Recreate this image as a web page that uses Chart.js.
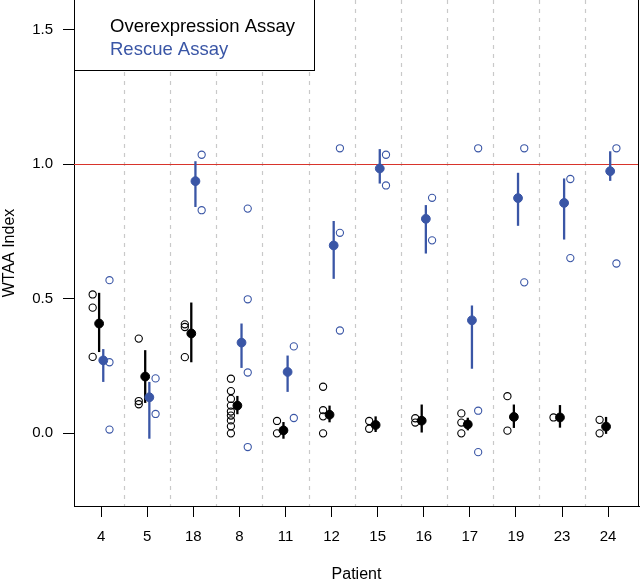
<!DOCTYPE html>
<html>
<head>
<meta charset="utf-8">
<script src="https://cdn.jsdelivr.net/npm/chart.js@4.4.0/dist/chart.umd.min.js"></script>
<style>
  html, body { margin: 0; padding: 0; background: #fff; }
  canvas { display: block; }
</style>
</head>
<body>
<canvas id="chart" width="640" height="581"></canvas>
<script>
// patients, in plotting order
var patients = ['4', '5', '18', '8', '11', '12', '15', '16', '17', '19', '23', '24'];
var yTicks = [0, 0.5, 1.0, 1.5];
var refLine = 1.0;

// overexpression assay: single measurements, mean and bar ends
var overPoints = [
    [0.516, 0.467, 0.284],
    [0.352, 0.120, 0.108],
    [0.405, 0.395, 0.283],
    [0.203, 0.157, 0.128, 0.103, 0.081, 0.066, 0.048, 0.026, 0.0],
    [0.046, 0.0],
    [0.173, 0.086, 0.063, 0.0],
    [0.046, 0.017],
    [0.056, 0.040],
    [0.074, 0.040, 0.0],
    [0.138, 0.010],
    [0.059],
    [0.050, 0.0]
];
var overMean = [0.408, 0.211, 0.371, 0.103, 0.011, 0.069, 0.031, 0.047, 0.033, 0.061, 0.059, 0.025];
var overLo   = [0.302, 0.113, 0.264, 0.071, -0.020, 0.041, 0.005, 0.003, 0.011, 0.020, 0.021, -0.002];
var overHi   = [0.522, 0.309, 0.486, 0.139, 0.042, 0.103, 0.063, 0.107, 0.058, 0.107, 0.105, 0.061];

// rescue assay
var resPoints = [
    [0.569, 0.264, 0.014],
    [0.204, 0.072],
    [1.035, 0.829],
    [0.835, 0.498, 0.226, -0.051],
    [0.323, 0.057],
    [1.059, 0.745, 0.382],
    [1.035, 0.921],
    [0.875, 0.717],
    [1.059, 0.084, -0.070],
    [1.059, 0.561],
    [0.945, 0.651],
    [1.059, 0.631]
];
var resMean = [0.271, 0.134, 0.937, 0.337, 0.228, 0.698, 0.984, 0.797, 0.420, 0.874, 0.856, 0.974];
var resLo   = [0.191, -0.020, 0.841, 0.243, 0.154, 0.574, 0.928, 0.668, 0.240, 0.771, 0.720, 0.938];
var resHi   = [0.313, 0.191, 1.011, 0.408, 0.289, 0.789, 1.056, 0.848, 0.475, 0.968, 0.947, 1.048];

var BLUE = '#3a56a6';
var RED = '#d8342b';
var FONT = '"Liberation Sans", Arial, Helvetica, sans-serif';

// horizontal shifts inside a patient column
var offOverPts = -0.185, offOverMean = -0.045, offResMean = 0.045, offResPts = 0.18;

function spread(lists, off) {
    var out = [];
    lists.forEach(function(vals, i) {
        vals.forEach(function(v) { out.push({x: i + 1 + off, y: v}); });
    });
    return out;
}

function means(vals, off) {
    return vals.map(function(v, i) { return {x: i + 1 + off, y: v}; });
}

var decor = {
    id: 'decor',
    beforeDatasetsDraw: function(chart) {
        var ctx = chart.ctx, a = chart.chartArea;
        var xs = chart.scales.x, ys = chart.scales.y;
        ctx.save();

        // dashed separators between patients
        ctx.strokeStyle = '#c9c9c9';
        ctx.lineWidth = 1.2;
        ctx.setLineDash([4, 5]);
        for (var i = 1; i < patients.length; i++) {
            var px = Math.round(xs.getPixelForValue(i + 0.5)) + 0.5;
            ctx.beginPath();
            ctx.moveTo(px, a.top);
            ctx.lineTo(px, a.bottom);
            ctx.stroke();
        }
        ctx.setLineDash([]);

        // reference line
        var ry = Math.round(ys.getPixelForValue(refLine)) + 0.5;
        ctx.strokeStyle = RED;
        ctx.lineWidth = 1;
        ctx.beginPath();
        ctx.moveTo(a.left, ry);
        ctx.lineTo(a.right, ry);
        ctx.stroke();

        // error bars
        ctx.lineWidth = 2.3;
        function bars(lo, hi, off, color) {
            ctx.strokeStyle = color;
            for (var j = 0; j < lo.length; j++) {
                var bx = xs.getPixelForValue(j + 1 + off);
                ctx.beginPath();
                ctx.moveTo(bx, ys.getPixelForValue(lo[j]));
                ctx.lineTo(bx, ys.getPixelForValue(hi[j]));
                ctx.stroke();
            }
        }
        bars(resLo, resHi, offResMean, BLUE);
        bars(overLo, overHi, offOverMean, '#000');
        ctx.restore();
    },
    afterDatasetsDraw: function(chart) {
        var ctx = chart.ctx, a = chart.chartArea;
        ctx.save();
        // right edge of the box
        ctx.strokeStyle = '#000';
        ctx.lineWidth = 1;
        ctx.beginPath();
        ctx.moveTo(a.right - 0.5, a.top);
        ctx.lineTo(a.right - 0.5, a.bottom);
        ctx.stroke();

        // legend
        ctx.fillStyle = '#fff';
        ctx.fillRect(a.left, a.top - 2, 240, 73);
        ctx.strokeStyle = '#000';
        ctx.strokeRect(a.left + 0.5, a.top - 2.5, 240, 73);
        ctx.font = '18.5px ' + FONT;
        ctx.textBaseline = 'alphabetic';
        ctx.textAlign = 'left';
        ctx.fillStyle = '#000';
        ctx.fillText('Overexpression Assay', a.left + 36, 31.5);
        ctx.fillStyle = BLUE;
        ctx.fillText('Rescue Assay', a.left + 36, 54.5);
        ctx.restore();
    }
};

var ctx = document.getElementById('chart').getContext('2d');
var chart = new Chart(ctx, {
    type: 'scatter',
    data: {
        datasets: [{
            label: 'Overexpression',
            data: spread(overPoints, offOverPts),
            pointRadius: 3.6,
            borderWidth: 1.1,
            borderColor: '#000',
            backgroundColor: 'rgba(0,0,0,0)',
            order: 6
        }, {
            label: 'Overexpression mean',
            data: means(overMean, offOverMean),
            pointRadius: 4.4,
            borderWidth: 1,
            borderColor: '#000',
            backgroundColor: '#000',
            order: 3
        }, {
            label: 'Rescue mean',
            data: means(resMean, offResMean),
            pointRadius: 4.4,
            borderWidth: 1,
            borderColor: BLUE,
            backgroundColor: BLUE,
            order: 4
        }, {
            label: 'Rescue',
            data: spread(resPoints, offResPts),
            pointRadius: 3.6,
            borderWidth: 1.1,
            borderColor: BLUE,
            backgroundColor: 'rgba(0,0,0,0)',
            order: 5
        }]
    },
    options: {
        responsive: false,
        animation: false,
        devicePixelRatio: 1,
        events: [],
        layout: { autoPadding: false, padding: { left: 0, right: 1, top: 0, bottom: 0 } },
        plugins: {
            legend: { display: false },
            tooltip: { enabled: false }
        },
        scales: {
            x: {
                type: 'linear',
                min: 0.41,
                max: 12.67,
                afterBuildTicks: function(scale) {
                    scale.ticks = patients.map(function(p, i) { return {value: i + 1}; });
                },
                afterFit: function(scale) {
                    scale.height = 75;
                    scale.paddingLeft = 0;
                    scale.paddingRight = 0;
                },
                ticks: {
                    color: '#000',
                    font: { family: FONT, size: 15 },
                    padding: 11,
                    maxRotation: 0,
                    autoSkip: false,
                    callback: function(v) { return patients[Math.round(v) - 1]; }
                },
                grid: { drawOnChartArea: false, color: '#000', tickLength: 11, lineWidth: 1 },
                border: { display: true, color: '#000', width: 1 },
                title: {
                    display: true,
                    text: 'Patient',
                    color: '#000',
                    font: { family: FONT, size: 16, lineHeight: 0.75 },
                    padding: 0
                }
            },
            y: {
                min: -0.27,
                max: 1.61,
                afterBuildTicks: function(scale) {
                    scale.ticks = yTicks.map(function(v) { return {value: v}; });
                },
                afterFit: function(scale) {
                    scale.width = 74;
                    scale.paddingTop = 0;
                    scale.paddingBottom = 0;
                },
                ticks: {
                    color: '#000',
                    font: { family: FONT, size: 15 },
                    padding: 10,
                    callback: function(v) { return v.toFixed(1); }
                },
                grid: { drawOnChartArea: false, color: '#000', tickLength: 11, lineWidth: 1 },
                border: { display: true, color: '#000', width: 1 },
                title: {
                    display: true,
                    text: 'WTAA Index',
                    color: '#000',
                    font: { family: FONT, size: 16 },
                    padding: 0
                }
            }
        }
    },
    plugins: [decor]
});
</script>
</body>
</html>
